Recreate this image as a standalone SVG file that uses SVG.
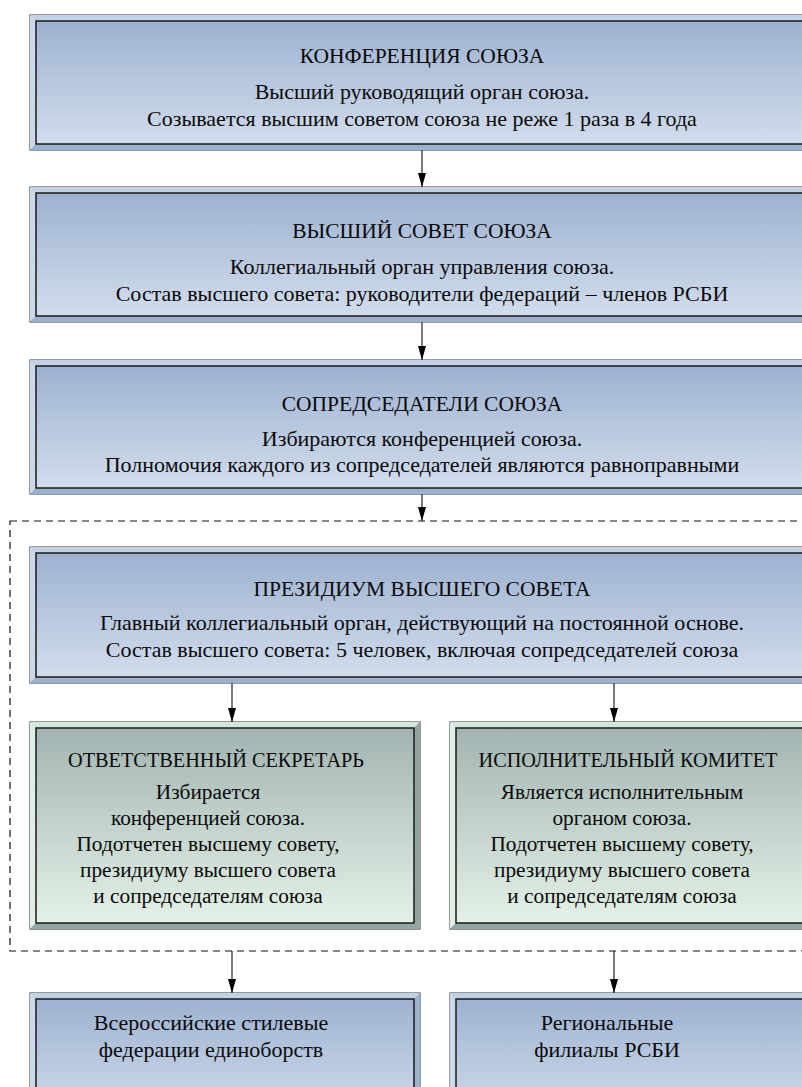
<svg xmlns="http://www.w3.org/2000/svg" width="802" height="1087" viewBox="0 0 802 1087">
<defs>
<linearGradient id="gb" x1="0" y1="0" x2="0" y2="1">
<stop offset="0" stop-color="#9db2d0"/>
<stop offset="1" stop-color="#d2dded"/>
</linearGradient>
<linearGradient id="gg" x1="0" y1="0" x2="0" y2="1">
<stop offset="0" stop-color="#a2b4b2"/>
<stop offset="1" stop-color="#e4f1e7"/>
</linearGradient>
<marker id="arr" viewBox="0 0 14 8" refX="14" refY="4" markerWidth="14" markerHeight="8" markerUnits="userSpaceOnUse" orient="auto">
<path d="M0,0 L14,4 L0,8 Z" fill="#000"/>
</marker>
</defs>
<style>
.t{font-family:"Liberation Serif","Times New Roman",serif;fill:#0a0a0a;text-anchor:middle}
.h{font-size:21.5px}
.b{font-size:22px}
.gh{font-size:20.3px}
.gb{font-size:21.3px}
.ob{fill:#a9bcd6;stroke:#333;stroke-width:1}
.lt{fill:#c3d1e4}
.ll{fill:#ccd9ea}
.dk{fill:#9cb1cf}
.ib{fill:url(#gb);stroke:#1a1a1a;stroke-width:1.5}
.og{fill:#b6c8c3;stroke:#333;stroke-width:1}
.glt{fill:#d6e6dc}
.gll{fill:#e0efe5}
.gdk{fill:#93a5a3}
.ig{fill:url(#gg);stroke:#1a1a1a;stroke-width:1.5}
.c{stroke:#333;stroke-width:1.3;fill:none;marker-end:url(#arr)}
.dash{fill:none;stroke:#111;stroke-width:1.2;stroke-dasharray:7,5}
</style>

<rect class="dash" x="10" y="521" width="820" height="430"/>

<g id="n1">
<rect class="ob" x="30" y="15" width="790" height="135"/>
<polygon class="lt" points="30,15 820,15 814,21 36,21"/>
<polygon class="ll" points="30,15 36,21 36,144 30,150"/>
<polygon class="dk" points="30,150 36,144 814,144 820,150"/>
<rect class="ib" x="36" y="21" width="778" height="123"/>
<text class="t h" x="422" y="63">КОНФЕРЕНЦИЯ СОЮЗА</text>
<text class="t b" x="422" y="99">Высший руководящий орган союза.</text>
<text class="t b" x="422" y="126">Созывается высшим советом союза не реже 1 раза в 4 года</text>
</g>

<g id="n2">
<rect class="ob" x="30" y="187" width="790" height="135"/>
<polygon class="lt" points="30,187 820,187 814,193 36,193"/>
<polygon class="ll" points="30,187 36,193 36,316 30,322"/>
<polygon class="dk" points="30,322 36,316 814,316 820,322"/>
<rect class="ib" x="36" y="193" width="778" height="123"/>
<text class="t h" x="422" y="238">ВЫСШИЙ СОВЕТ СОЮЗА</text>
<text class="t b" x="422" y="274">Коллегиальный орган управления союза.</text>
<text class="t b" x="422" y="301">Состав высшего совета: руководители федераций – членов РСБИ</text>
</g>

<g id="n3">
<rect class="ob" x="30" y="360" width="790" height="134"/>
<polygon class="lt" points="30,360 820,360 814,366 36,366"/>
<polygon class="ll" points="30,360 36,366 36,488 30,494"/>
<polygon class="dk" points="30,494 36,488 814,488 820,494"/>
<rect class="ib" x="36" y="366" width="778" height="122"/>
<text class="t h" x="422" y="411">СОПРЕДСЕДАТЕЛИ СОЮЗА</text>
<text class="t b" x="422" y="446">Избираются конференцией союза.</text>
<text class="t b" x="422" y="472">Полномочия каждого из сопредседателей являются равноправными</text>
</g>

<g id="n4">
<rect class="ob" x="30" y="547" width="790" height="136"/>
<polygon class="lt" points="30,547 820,547 814,553 36,553"/>
<polygon class="ll" points="30,547 36,553 36,677 30,683"/>
<polygon class="dk" points="30,683 36,677 814,677 820,683"/>
<rect class="ib" x="36" y="553" width="778" height="124"/>
<text class="t h" x="422" y="596">ПРЕЗИДИУМ ВЫСШЕГО СОВЕТА</text>
<text class="t b" x="422" y="630">Главный коллегиальный орган, действующий на постоянной основе.</text>
<text class="t b" x="422" y="657">Состав высшего совета: 5 человек, включая сопредседателей союза</text>
</g>

<g id="n5">
<rect class="og" x="30" y="722" width="390" height="207"/>
<polygon class="glt" points="30,722 420,722 414,728 36,728"/>
<polygon class="gll" points="30,722 36,728 36,923 30,929"/>
<polygon class="gdk" points="30,929 36,923 414,923 420,929"/>
<polygon class="gdk" points="420,722 420,929 414,923 414,728"/>
<rect class="ig" x="36" y="728" width="378" height="195"/>
<text class="t gh" x="216" y="767">ОТВЕТСТВЕННЫЙ СЕКРЕТАРЬ</text>
<text class="t gb" x="208" y="799">Избирается</text>
<text class="t gb" x="208" y="825">конференцией союза.</text>
<text class="t gb" x="208" y="851">Подотчетен высшему совету,</text>
<text class="t gb" x="208" y="877">президиуму высшего совета</text>
<text class="t gb" x="208" y="903">и сопредседателям союза</text>
</g>

<g id="n6">
<rect class="og" x="450" y="722" width="370" height="207"/>
<polygon class="glt" points="450,722 820,722 814,728 456,728"/>
<polygon class="gll" points="450,722 456,728 456,923 450,929"/>
<polygon class="gdk" points="450,929 456,923 814,923 820,929"/>
<rect class="ig" x="456" y="728" width="358" height="195"/>
<text class="t gh" x="628" y="767">ИСПОЛНИТЕЛЬНЫЙ КОМИТЕТ</text>
<text class="t gb" x="622" y="799">Является исполнительным</text>
<text class="t gb" x="622" y="825">органом союза.</text>
<text class="t gb" x="622" y="851">Подотчетен высшему совету,</text>
<text class="t gb" x="622" y="877">президиуму высшего совета</text>
<text class="t gb" x="622" y="903">и сопредседателям союза</text>
</g>

<g id="n7">
<rect class="ob" x="30" y="993" width="390" height="120"/>
<polygon class="lt" points="30,993 420,993 414,999 36,999"/>
<polygon class="ll" points="30,993 36,999 36,1113 30,1113"/>
<polygon class="dk" points="420,993 420,1113 414,1113 414,999"/>
<rect class="ib" x="36" y="999" width="378" height="120"/>
<text class="t b" x="211" y="1030">Всероссийские стилевые</text>
<text class="t b" x="211" y="1057">федерации единоборств</text>
</g>

<g id="n8">
<rect class="ob" x="450" y="993" width="370" height="120"/>
<polygon class="lt" points="450,993 820,993 814,999 456,999"/>
<polygon class="ll" points="450,993 456,999 456,1113 450,1113"/>
<rect class="ib" x="456" y="999" width="358" height="120"/>
<text class="t b" x="607" y="1030">Региональные</text>
<text class="t b" x="607" y="1057">филиалы РСБИ</text>
</g>

<g id="connectors">
<line class="c" x1="422" y1="150" x2="422" y2="187"/>
<line class="c" x1="422" y1="322" x2="422" y2="360"/>
<line class="c" x1="422" y1="494" x2="422" y2="521"/>
<line class="c" x1="232" y1="683" x2="232" y2="722"/>
<line class="c" x1="614" y1="683" x2="614" y2="722"/>
<line class="c" x1="232" y1="951" x2="232" y2="993"/>
<line class="c" x1="614" y1="951" x2="614" y2="993"/>
</g>
</svg>
